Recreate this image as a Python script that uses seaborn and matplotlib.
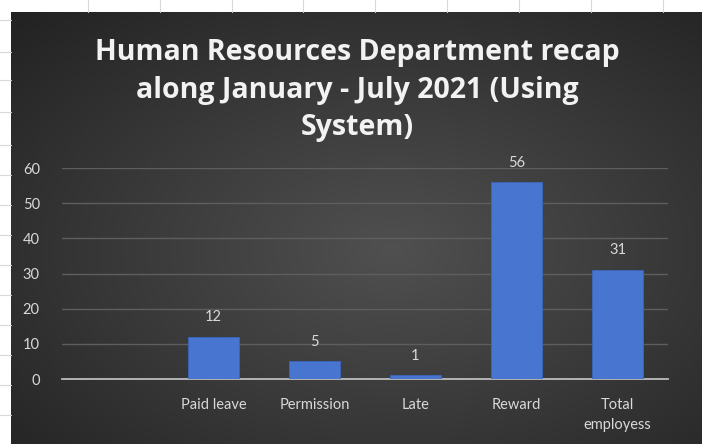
import numpy as np
import matplotlib
matplotlib.use("Agg")
import matplotlib.pyplot as plt
import seaborn as sns
import pandas as pd

categories = ["Paid leave", "Permission", "Late", "Reward", "Total\nemployess"]
values = [12, 5, 1, 56, 31]
yticks = [0, 10, 20, 30, 40, 50, 60]
title = "Human Resources Department recap\nalong January - July 2021 (Using\nSystem)"

sns.set_theme(style="dark")
plt.rcParams['font.family'] = ['Lato', 'DejaVu Sans']

W, H = 702, 444
fig = plt.figure(figsize=(W / 100, H / 100), dpi=100, facecolor="white")

# Excel sheet faint grid in the white margin
for xx in [88, 160, 232, 303, 375, 447, 519, 591, 663]:
    fig.add_artist(plt.Line2D([xx / W, xx / W], [1 - 12 / H, 1], color="#d8d8d8", lw=0.8))
for yy in [20, 52, 80, 112, 145, 175, 205, 235, 265, 295, 325, 355, 385, 415]:
    fig.add_artist(plt.Line2D([0, 11 / W], [1 - yy / H, 1 - yy / H], color="#d8d8d8", lw=0.8))

# chart background with radial gradient
bg = fig.add_axes([11 / W, 0, (W - 11) / W, (H - 12) / H])
ny, nx = 200, 300
yy, xx = np.mgrid[0:ny, 0:nx]
cx, cy = nx * 0.55, ny * 0.55
r = np.sqrt(((xx - cx) / nx) ** 2 + ((yy - cy) / ny) ** 2)
r = r / r.max()
light = np.array([0x50, 0x50, 0x50]) / 255
dark = np.array([0x22, 0x22, 0x22]) / 255
img = light[None, None, :] * (1 - r[..., None]) + dark[None, None, :] * r[..., None]
bg.imshow(img, aspect="auto", extent=[0, 1, 0, 1], interpolation="bilinear")
bg.set_axis_off()

# plot area
ax = fig.add_axes([62 / W, (H - 379) / H, 606 / W, 211 / H])
ax.set_facecolor("none")
df = pd.DataFrame({"cat": categories, "val": values})
sns.barplot(data=df, x="cat", y="val", color="#4775cf", width=0.5, ax=ax,
            saturation=1, edgecolor="#3b66bd", linewidth=0.6, zorder=3)
ax.set_xlim(-1.5, len(categories) - 0.5)
ax.set_ylim(0, 60)
ax.set_yticks(yticks)
ax.set_xlabel("")
ax.set_ylabel("")
ax.grid(axis="y", color="#5e5e5e", lw=1.0, zorder=0)
ax.grid(axis="x", visible=False)
for s in ["top", "right", "left"]:
    ax.spines[s].set_visible(False)
ax.spines["bottom"].set_color("#bdbdbd")
ax.spines["bottom"].set_linewidth(1.3)
ax.tick_params(axis="y", colors="#d9d9d9", labelsize=10.5, length=0, pad=16)
ax.tick_params(axis="x", colors="#d9d9d9", labelsize=10.5, length=0, pad=14)
for lab in ax.get_yticklabels() + ax.get_xticklabels():
    lab.set_color("#d9d9d9")
for lab in ax.get_xticklabels():
    lab.set_linespacing(1.55)
    lab.set_va("top")
ax.bar_label(ax.containers[0], padding=9, color="#d9d9d9", fontsize=10.5)

fig.text(357 / W, 1 - 90 / H, title, ha="center", va="center", color="#f2f2f2",
         fontsize=20.5, fontweight="bold", linespacing=1.38, family=["Open Sans", "DejaVu Sans"])

fig.savefig("out.png", dpi=100, facecolor="white")
